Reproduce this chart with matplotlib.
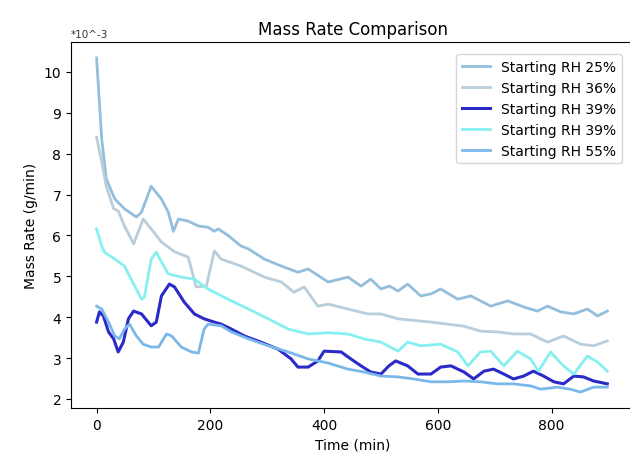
import matplotlib
matplotlib.use("Agg")
import matplotlib.pyplot as plt

# values, mass rate in units of 1e-3 g/min
t_25 = [0, 9, 17, 32, 49, 70, 79, 96, 114, 126, 135, 144, 161, 179, 196, 207, 214, 232,
        254, 267, 295, 325, 354, 372, 407, 442, 465, 482, 500, 515, 530, 547, 570, 588,
        605, 635, 658, 675, 693, 723, 751, 775, 793, 816, 839, 863, 881, 898]
rate_25 = [10.34, 8.36, 7.38, 6.89, 6.65, 6.45, 6.57, 7.2, 6.89, 6.57, 6.1, 6.4, 6.35, 6.23,
           6.2, 6.1, 6.16, 5.99, 5.74, 5.67, 5.42, 5.25, 5.1, 5.18, 4.86, 4.98, 4.76, 4.93,
           4.69, 4.76, 4.64, 4.81, 4.52, 4.57, 4.69, 4.44, 4.52, 4.4, 4.27, 4.4, 4.25, 4.15,
           4.27, 4.13, 4.08, 4.2, 4.03, 4.15]

t_36 = [0, 9, 17, 30, 38, 49, 61, 65, 82, 96, 114, 137, 161, 175, 193, 207, 219, 254, 295,
        325, 347, 365, 389, 407, 442, 477, 500, 530, 588, 646, 675, 705, 733, 763, 793,
        821, 851, 874, 898]
rate_36 = [8.4, 7.8, 7.2, 6.65, 6.6, 6.23, 5.91, 5.79, 6.4, 6.16, 5.84, 5.6, 5.47, 4.74,
           4.76, 5.62, 5.42, 5.25, 4.98, 4.86, 4.61, 4.74, 4.27, 4.32, 4.2, 4.08, 4.08,
           3.96, 3.88, 3.78, 3.66, 3.64, 3.59, 3.59, 3.39, 3.54, 3.34, 3.3, 3.42]

t_39a = [0, 5, 12, 21, 30, 38, 47, 56, 65, 79, 96, 105, 114, 128, 137, 154, 172, 189, 207,
         219, 237, 260, 289, 319, 342, 354, 372, 389, 400, 430, 447, 465, 482, 500, 514,
         526, 547, 565, 588, 605, 623, 646, 663, 681, 698, 716, 733, 751, 768, 786, 804,
         821, 839, 856, 874, 898]
rate_39a = [3.88, 4.13, 4.03, 3.64, 3.47, 3.15, 3.39, 3.96, 4.15, 4.08, 3.79, 3.88, 4.52,
            4.81, 4.74, 4.37, 4.08, 3.96, 3.88, 3.83, 3.71, 3.54, 3.39, 3.22, 2.98, 2.78,
            2.78, 2.93, 3.17, 3.15, 2.98, 2.81, 2.66, 2.61, 2.81, 2.93, 2.81, 2.61, 2.61,
            2.78, 2.81, 2.66, 2.49, 2.68, 2.73, 2.61, 2.49, 2.56, 2.68, 2.56, 2.42, 2.37,
            2.56, 2.54, 2.44, 2.37]

t_39b = [0, 9, 14, 32, 49, 67, 79, 84, 96, 105, 114, 126, 149, 172, 196, 231, 267, 302,
         337, 372, 407, 442, 470, 500, 530, 547, 570, 605, 635, 653, 675, 693, 716, 740,
         763, 777, 798, 821, 839, 863, 881, 898]
rate_39b = [6.16, 5.74, 5.59, 5.42, 5.25, 4.76, 4.44, 4.49, 5.42, 5.59, 5.35, 5.06, 4.98,
            4.93, 4.69, 4.44, 4.2, 3.96, 3.71, 3.59, 3.62, 3.59, 3.47, 3.39, 3.17, 3.39,
            3.3, 3.34, 3.15, 2.81, 3.15, 3.17, 2.81, 3.17, 2.98, 2.68, 3.15, 2.81, 2.61,
            3.05, 2.9, 2.68]

t_55 = [0, 9, 21, 32, 40, 49, 58, 70, 82, 96, 109, 123, 132, 149, 167, 179, 189, 196, 219,
        237, 267, 302, 337, 372, 407, 442, 470, 500, 530, 558, 588, 617, 646, 675, 705,
        733, 763, 781, 810, 833, 851, 874, 898]
rate_55 = [4.27, 4.2, 3.88, 3.54, 3.47, 3.71, 3.83, 3.54, 3.34, 3.27, 3.27, 3.59, 3.54,
           3.27, 3.15, 3.12, 3.71, 3.83, 3.79, 3.64, 3.47, 3.3, 3.15, 2.98, 2.88, 2.73,
           2.66, 2.56, 2.54, 2.49, 2.42, 2.42, 2.44, 2.42, 2.37, 2.37, 2.32, 2.24, 2.29,
           2.24, 2.17, 2.29, 2.29]

fig = plt.figure(figsize=(6.3, 4.6), dpi=100)
ax = fig.add_axes([0.1127, 0.1109, 0.8937, 0.7957])

ax.plot(t_25, rate_25, color="#93bedc", lw=2, label="Starting RH 25%")
ax.plot(t_36, rate_36, color="#b9cdda", lw=2, label="Starting RH 36%")
ax.plot(t_39a, rate_39a, color="#2a2ac8", lw=2.2, label="Starting RH 39%")
ax.plot(t_39b, rate_39b, color="#86f0f0", lw=2, label="Starting RH 39%")
ax.plot(t_55, rate_55, color="#7bb8ea", lw=2, label="Starting RH 55%")

ax.set_xlim(-45, 945)
ax.set_ylim(1.78, 10.73)
ax.set_xticks([0, 200, 400, 600, 800])
ax.set_yticks(range(2, 11))

ax.set_title("Mass Rate Comparison", fontsize=12)
ax.set_xlabel("Time (min)")
ax.set_ylabel("Mass Rate (g/min)")
ax.text(0, 1.008, "*10^-3", transform=ax.transAxes, fontsize=7.5,
        ha="left", va="bottom", color="#333333")

ax.legend(loc="upper right", borderaxespad=0.9)

fig.savefig("out.png", dpi=100)
